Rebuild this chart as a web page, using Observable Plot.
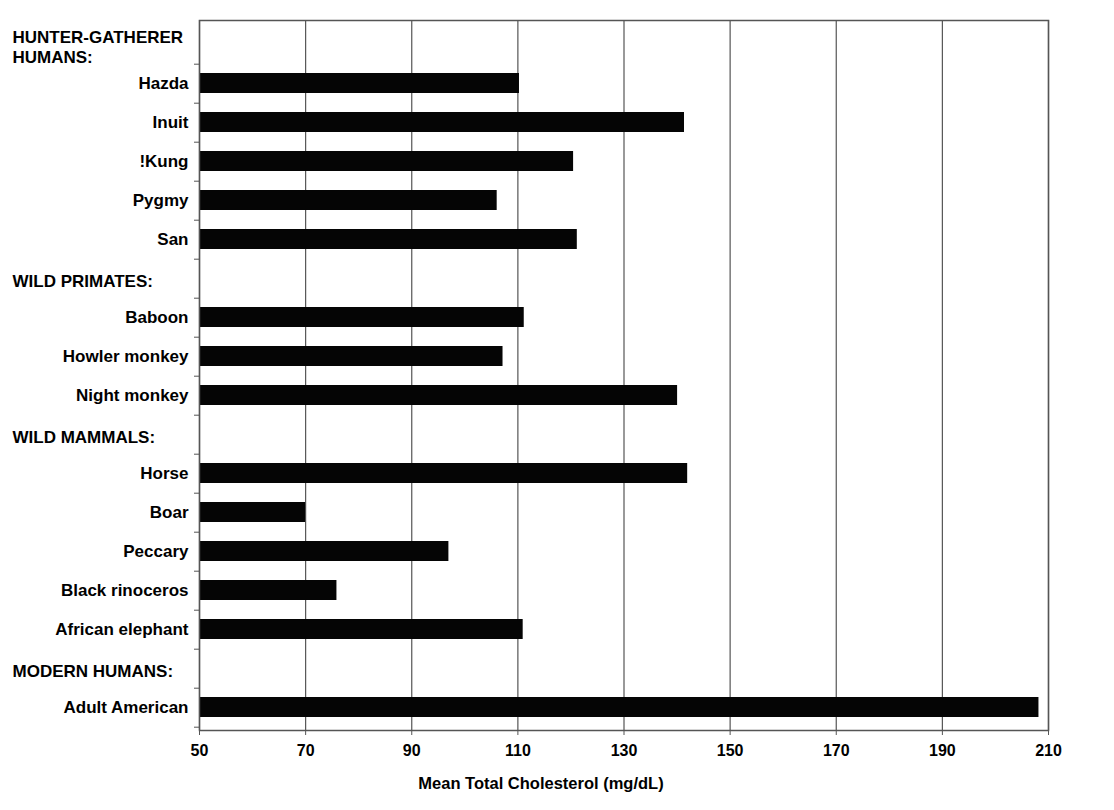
<!DOCTYPE html>
<html>
<head>
<meta charset="utf-8">
<script src="https://cdn.jsdelivr.net/npm/d3@7"></script>
<script src="https://cdn.jsdelivr.net/npm/@observablehq/plot@0.6"></script>
<style>
  html, body { margin: 0; padding: 0; background: #fff; }
  #chart svg { display: block; }
</style>
</head>
<body>
<div id="chart"></div>
<script>
// Group headers and their members (in display order)
const groups = ["HUNTER-GATHERER\nHUMANS:", "WILD PRIMATES:", "WILD MAMMALS:", "MODERN HUMANS:"];
const hunterGatherers = ["Hazda", "Inuit", "!Kung", "Pygmy", "San"];
const hunterValues = [110.3, 141.4, 120.5, 106.1, 121.2];
const wildPrimates = ["Baboon", "Howler monkey", "Night monkey"];
const primateValues = [111.2, 107.2, 140.1];
const wildMammals = ["Horse", "Boar", "Peccary", "Black rinoceros", "African elephant"];
const mammalValues = [142.0, 70.0, 97.0, 75.9, 111.0];
const modernHumans = ["Adult American"];
const modernValues = [208.2];
const xTicks = [50, 70, 90, 110, 130, 150, 170, 190, 210];
const xTitle = "Mean Total Cholesterol (mg/dL)";

const members = [hunterGatherers, wildPrimates, wildMammals, modernHumans];
const values = [hunterValues, primateValues, mammalValues, modernValues];

// Build row order and bar table
const rows = [];
const bars = [];
groups.forEach((g, gi) => {
  rows.push(g);
  members[gi].forEach((name, i) => {
    rows.push(name);
    bars.push({name, value: values[gi][i]});
  });
});
const headerSet = new Set(groups);
const headers = groups.map(g => ({key: g}));

const font = "'Liberation Sans', Arial, sans-serif";

const chart = Plot.plot({
  width: 1114,
  height: 810,
  marginLeft: 199,
  marginRight: 66,
  marginTop: 20,
  marginBottom: 80,
  style: {fontFamily: font, color: "#000", background: "#fff"},
  x: {domain: [50, 210]},
  y: {domain: rows, paddingInner: 0.5, paddingOuter: 0.25},
  marks: [
    Plot.gridX(xTicks, {stroke: "#555", strokeOpacity: 1, strokeWidth: 1.2}),
    Plot.barX(bars, {y: "name", x: "value", fill: "#050505", clip: true}),
    Plot.frame({stroke: "#555", strokeWidth: 1.5}),
    // x axis ticks and labels
    Plot.axisX({ticks: xTicks, tickSize: 5, tickPadding: 9, fontSize: 16, fontWeight: "bold", label: null, stroke: "#555"}),
    // y labels (items only)
    Plot.axisY({tickSize: 0, tickPadding: 11, fontSize: 17, fontWeight: "bold",
      tickFormat: d => headerSet.has(d) ? "" : d, label: null}),
    // y tick marks at row boundaries
    Plot.axisY({tickSize: 5, text: null, dy: 19.7, stroke: "#555", label: null}),
    // group headers
    Plot.text(headers, {y: "key", text: "key", frameAnchor: "left", textAnchor: "start",
      dx: -187, dy: 2, fontSize: 17, fontWeight: "bold", lineHeight: 1.15, fill: "#000"}),
    // x axis title
    Plot.text([xTitle], {frameAnchor: "bottom", dx: -83, dy: 58, fontSize: 16.5, fontWeight: "bold", fill: "#000"})
  ]
});
document.getElementById("chart").appendChild(chart);
</script>
</body>
</html>
